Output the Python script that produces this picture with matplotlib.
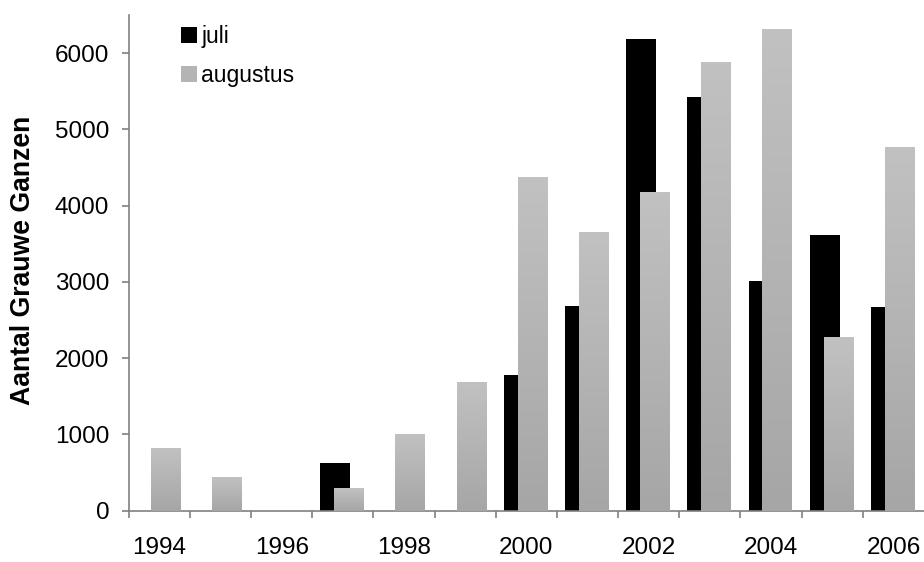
import matplotlib.pyplot as plt
import numpy as np
from matplotlib.patches import Patch
from matplotlib.colors import LinearSegmentedColormap

plt.rcParams['font.family'] = ['Liberation Sans', 'DejaVu Sans']

## data
years = [1994, 1995, 1996, 1997, 1998, 1999, 2000, 2001, 2002, 2003, 2004, 2005, 2006]
juli = [0, 0, 0, 620, 0, 0, 1780, 2680, 6180, 5420, 3010, 3620, 2670]
augustus = [820, 440, 0, 300, 1000, 1680, 4370, 3650, 4180, 5880, 6310, 2280, 4770]
year_labels = ['1994', '', '1996', '', '1998', '', '2000', '', '2002', '', '2004', '', '2006']

fig = plt.figure(figsize=(9.24, 5.62), dpi=100)
ax = fig.add_axes([0.1393, 0.0913, 0.8607, 0.882])

pos = np.arange(len(years))
ax.bar(pos + 0.377, juli, width=0.49, color='black', zorder=2)
aug_bars = ax.bar(pos + 0.605, augustus, width=0.49, color='#b4b4b4', zorder=3)

# gray bars get a vertical gradient, light on top, darker at the bottom
grey = LinearSegmentedColormap.from_list('grey', ['#a6a6a6', '#c1c1c1'])
grad = np.linspace(0, 1, 100).reshape(-1, 1)
for r in aug_bars:
    h = r.get_height()
    if h <= 0:
        continue
    x0 = r.get_x()
    ax.imshow(grad, extent=[x0, x0 + r.get_width(), 0, h], origin='lower',
              cmap=grey, aspect='auto', zorder=4, interpolation='bilinear')

ax.set_xlim(0, len(years))
ax.set_ylim(0, 6500)

for s in ['top', 'right']:
    ax.spines[s].set_visible(False)
for s in ['left', 'bottom']:
    ax.spines[s].set_color('#808080')
    ax.spines[s].set_linewidth(1.2)

ax.set_yticks([0, 1000, 2000, 3000, 4000, 5000, 6000])
ax.tick_params(axis='y', length=5, width=1.2, color='#808080', pad=9, labelsize=17.5)

ax.set_xticks(pos + 0.5)
ax.set_xticklabels(year_labels)
ax.set_xticks(pos, minor=True)
ax.tick_params(axis='x', which='major', length=0, pad=19, labelsize=17.5)
ax.tick_params(axis='x', which='minor', length=5, width=1.2, color='#808080')

fig.text(0.025, 0.537, 'Aantal Grauwe Ganzen', rotation=90, fontsize=19.2,
         fontweight='bold', ha='center', va='center')

handles = [Patch(facecolor='black', edgecolor='none', label='juli'),
           Patch(facecolor='#b4b4b4', edgecolor='none', label='augustus')]
ax.legend(handles=handles, loc='upper left', bbox_to_anchor=(0.1956, 0.955),
          bbox_transform=fig.transFigure, frameon=False, fontsize=16.5,
          handlelength=0.7, handleheight=0.7, handletextpad=0.2,
          labelspacing=0.68, borderaxespad=0, borderpad=0)

fig.savefig('out.png', dpi=100)
